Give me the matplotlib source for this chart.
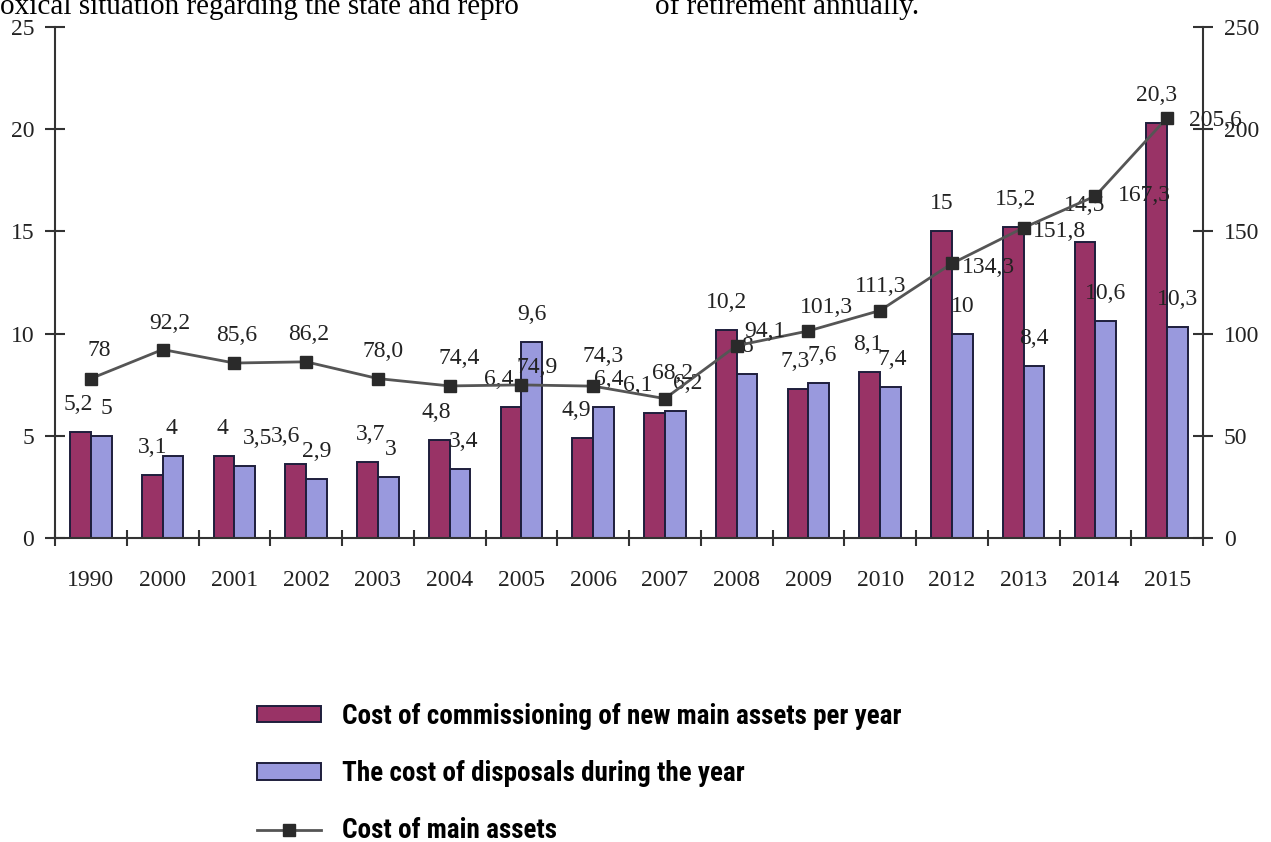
import matplotlib

matplotlib.use("Agg")
import matplotlib.pyplot as plt
from matplotlib import font_manager
from matplotlib.lines import Line2D
from matplotlib.patches import Patch

# values as printed on the chart (decimal comma)
years = ["1990", "2000", "2001", "2002", "2003", "2004", "2005", "2006",
         "2007", "2008", "2009", "2010", "2012", "2013", "2014", "2015"]
commissioned = ["5,2", "3,1", "4", "3,6", "3,7", "4,8", "6,4", "4,9",
                "6,1", "10,2", "7,3", "8,1", "15", "15,2", "14,5", "20,3"]
disposed = ["5", "4", "3,5", "2,9", "3", "3,4", "9,6", "6,4",
            "6,2", "8", "7,6", "7,4", "10", "8,4", "10,6", "10,3"]
main_assets = ["78", "92,2", "85,6", "86,2", "78,0", "74,4", "74,9", "74,3",
               "68,2", "94,1", "101,3", "111,3", "134,3", "151,8", "167,3", "205,6"]


def num(s):
    return float(s.replace(",", "."))


RED = "#993366"
BLUE = "#9999dd"
EDGE = "#1e1e3c"
AXC = "#333333"
SERIF = "Liberation Serif"

# narrow bold face for the legend, whichever one is installed
names = {f.name for f in font_manager.fontManager.ttflist}
narrow = [n for n in ("Roboto Condensed", "Liberation Sans Narrow", "DejaVu Sans Condensed")
          if n in names]
condensed_faces = [f for f in font_manager.fontManager.ttflist
                   if f.name == "DejaVu Sans" and f.stretch == "condensed" and f.weight in (700, "bold")]
if narrow:
    legend_prop = {"family": narrow[0], "weight": "bold", "size": 19.5}
elif condensed_faces:
    legend_prop = font_manager.FontProperties(fname=condensed_faces[0].fname, size=19.5)
else:
    legend_prop = {"family": "Liberation Sans", "weight": "bold", "size": 16}

# label nudges in pixels (dx, dy above bar top / marker)
red_dx = [-2, 0, -2, -10, 3, -3, -12, -6, -17, 0, -3, -2, 0, 2, 0, 0]
blue_dx = [5, -2, 13, 0, 2, 4, 0, 5, 12, 0, 3, 2, 0, 0, 0, 0]
red_dy = [22] * 16
red_dy[14] = 31
line_off = [(8, 23), (7, 21), (2, 22), (3, 22), (5, 22), (10, 22), (16, 12),
            (10, 24), (8, 20), (28, 9), (18, 18), (1, 19),
            (10, -4), (9, -4), (23, 1), (22, -3)]
line_right = [False] * 12 + [True] * 4

x = list(range(len(years)))
red_v = [num(v) for v in commissioned]
blue_v = [num(v) for v in disposed]
line_v = [num(v) for v in main_assets]

fig = plt.figure(figsize=(12.71, 8.42), dpi=100)
ax = fig.add_axes([55 / 1271, 1 - 538 / 842, (1203 - 55) / 1271, (538 - 27) / 842])

w = 0.29
ax.bar([i - w / 2 for i in x], red_v, w, color=RED, edgecolor=EDGE, linewidth=1.4)
ax.bar([i + w / 2 for i in x], blue_v, w, color=BLUE, edgecolor=EDGE, linewidth=1.4)

for i in x:
    ax.annotate(commissioned[i], (i - w / 2, red_v[i]), xytext=(red_dx[i], red_dy[i]),
                textcoords="offset pixels", ha="center", va="baseline",
                fontsize=17, family=SERIF, color="#222222")
    ax.annotate(disposed[i], (i + w / 2, blue_v[i]), xytext=(blue_dx[i], 22),
                textcoords="offset pixels", ha="center", va="baseline",
                fontsize=17, family=SERIF, color="#222222")

ax.set_xlim(-0.5, len(years) - 0.5)
ax.set_ylim(0, 25)
ax.set_yticks([0, 5, 10, 15, 20, 25])
ax.set_xticks(x)
ax.set_xticklabels(years)
ax.set_xticks([i - 0.5 for i in range(len(years) + 1)], minor=True)
ax.tick_params(axis="x", which="major", length=0, pad=23)
ax.tick_params(axis="x", which="minor", direction="inout", length=12, width=1.5, color=AXC)
ax.tick_params(axis="y", direction="inout", length=14, width=1.5, color=AXC, pad=8)
for lab in ax.get_xticklabels() + ax.get_yticklabels():
    lab.set_family(SERIF)
    lab.set_fontsize(17)
    lab.set_color("#222222")
for s in ("top", "right"):
    ax.spines[s].set_visible(False)
for s in ("left", "bottom"):
    ax.spines[s].set_color(AXC)
    ax.spines[s].set_linewidth(1.5)

ax2 = ax.twinx()
ax2.plot(x, line_v, color="#555555", linewidth=2, marker="s", markersize=9,
         markerfacecolor="#2a2a2a", markeredgecolor="#2a2a2a")
for i in x:
    dx, dy = line_off[i]
    ax2.annotate(main_assets[i], (i, line_v[i]), xytext=(dx, dy), textcoords="offset pixels",
                 ha="left" if line_right[i] else "center",
                 va="center" if line_right[i] else "baseline",
                 fontsize=17, family=SERIF, color="#222222")
ax2.set_ylim(0, 250)
ax2.set_yticks([0, 50, 100, 150, 200, 250])
ax2.tick_params(axis="y", direction="inout", length=14, width=1.5, color=AXC, pad=8)
for lab in ax2.get_yticklabels():
    lab.set_family(SERIF)
    lab.set_fontsize(17)
    lab.set_color("#222222")
for s in ("top", "left", "bottom"):
    ax2.spines[s].set_visible(False)
ax2.spines["right"].set_color(AXC)
ax2.spines["right"].set_linewidth(1.5)

# leftover lines of the surrounding text
fig.text(0, 1 - 14 / 842, "oxical situation regarding the state and repro",
         fontsize=21, family=SERIF, va="baseline")
fig.text(655 / 1271, 1 - 14 / 842, "of retirement annually.",
         fontsize=21, family=SERIF, va="baseline")

handles = [
    Patch(facecolor=RED, edgecolor=EDGE, linewidth=1.4),
    Patch(facecolor=BLUE, edgecolor=EDGE, linewidth=1.4),
    Line2D([], [], color="#555555", linewidth=2, marker="s", markersize=8,
           markerfacecolor="#2a2a2a", markeredgecolor="#2a2a2a"),
]
labels = ["Cost of commissioning of new main assets per year",
          "The cost of disposals during the year",
          "Cost of main assets"]
fig.legend(handles, labels, loc="upper left", bbox_to_anchor=(246 / 1271, 1 - 692 / 842),
           frameon=False, handlelength=2.36, handleheight=0.55, handletextpad=0.78,
           labelspacing=1.12, borderaxespad=0, prop=legend_prop)

fig.savefig("out.png", dpi=100)
